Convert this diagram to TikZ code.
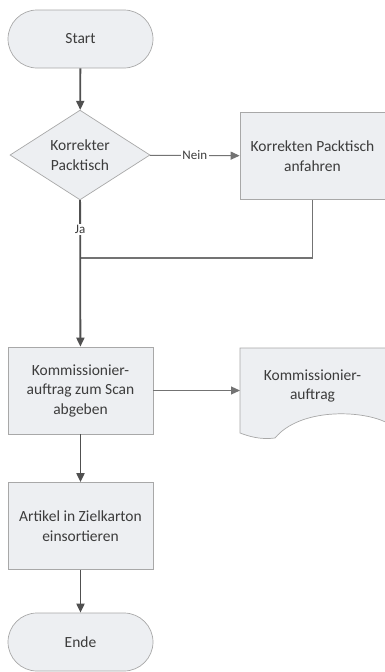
\documentclass[tikz,border=0pt]{standalone}
\usepackage{fontspec}
\setmainfont{Carlito}
\usetikzlibrary{shapes.geometric,shapes.misc,arrows.meta,calc}
\definecolor{boxfill}{HTML}{EDEFF2}
\definecolor{boxline}{HTML}{A8A8A8}
\definecolor{flowline}{HTML}{505050}
\definecolor{textgray}{HTML}{3C3C3C}
\begin{document}
\begin{tikzpicture}[
        x=1pt, y=-1pt,
        font=\fontsize{15.5}{19.5}\selectfont,
        text=textgray,
        termNode/.style={rounded rectangle, draw=boxline, fill=boxfill, line width=0.7pt, minimum width=145pt, minimum height=58pt, inner sep=0pt},
        decisionNode/.style={diamond, draw=boxline, fill=boxfill, line width=0.7pt, minimum width=140pt, minimum height=86pt, inner sep=0pt, align=center},
        processNode/.style={rectangle, draw=boxline, fill=boxfill, line width=0.7pt, minimum width=145pt, minimum height=87pt, inner sep=0pt, align=center},
        flowArrow/.style={-{Triangle[length=9pt,width=8pt]}, draw=flowline, line width=1.8pt},
        sideArrow/.style={-{Triangle[length=9pt,width=8pt]}, draw=flowline!80, line width=1.1pt},
        joinLine/.style={draw=flowline!80, line width=1.1pt},
        edgeLabel/.style={fill=white, inner sep=1.5pt, font=\fontsize{13}{15}\selectfont}
    ]
        \useasboundingbox (0,0) rectangle (384,672);

        % Nodes
        \node[termNode] (start) at (80.5,39) {Start};
        \node[decisionNode] (packtisch) at (80,155) {Korrekter\\Packtisch};
        \node[processNode] (anfahren) at (312.5,156) {Korrekten Packtisch\\anfahren};
        \node[processNode] (scan) at (80.5,390.5) {Kommissionier-\\auftrag zum Scan\\abgeben};
        \node[rectangle, minimum width=145pt, minimum height=92pt, inner sep=0pt, align=center, anchor=north west] (auftrag) at (240,348) {};
        \node[processNode] (einsort) at (80.5,526) {Artikel in Zielkarton\\einsortieren};
        \node[termNode] (ende) at (80.5,642) {Ende};
        \coordinate (join) at (80,258);

        % Document shape
        \draw[draw=boxline, fill=boxfill, line width=0.7pt]
            (auftrag.north west) -- (auftrag.north east) -- ($(auftrag.north east)+(0,74)$)
            .. controls ($(auftrag.north east)+(-25,62)$) and ($(auftrag.north west)+(60,60)$) .. ($(auftrag.north west)+(35,90)$)
            .. controls ($(auftrag.north west)+(20,92)$) and ($(auftrag.north west)+(8,88)$) .. ($(auftrag.north west)+(0,85)$)
            -- cycle;
        \node[align=center] (auftragtext) at (312.5,386) {Kommissionier-\\auftrag};

        % Edges
        \draw[flowArrow] (start) -- (packtisch);
        \draw[sideArrow] (packtisch) -- node[edgeLabel, pos=0.5] {Nein} (anfahren);
        \draw[joinLine] (anfahren) |- (join);
        \draw[flowArrow] (packtisch) -- node[edgeLabel, pos=0.2] {Ja} (scan);
        \draw[sideArrow] (scan.east) -- (auftrag.west |- scan.east);
        \draw[flowArrow] (scan) -- (einsort);
        \draw[flowArrow] (einsort) -- (ende);
    \end{tikzpicture}
\end{document}
